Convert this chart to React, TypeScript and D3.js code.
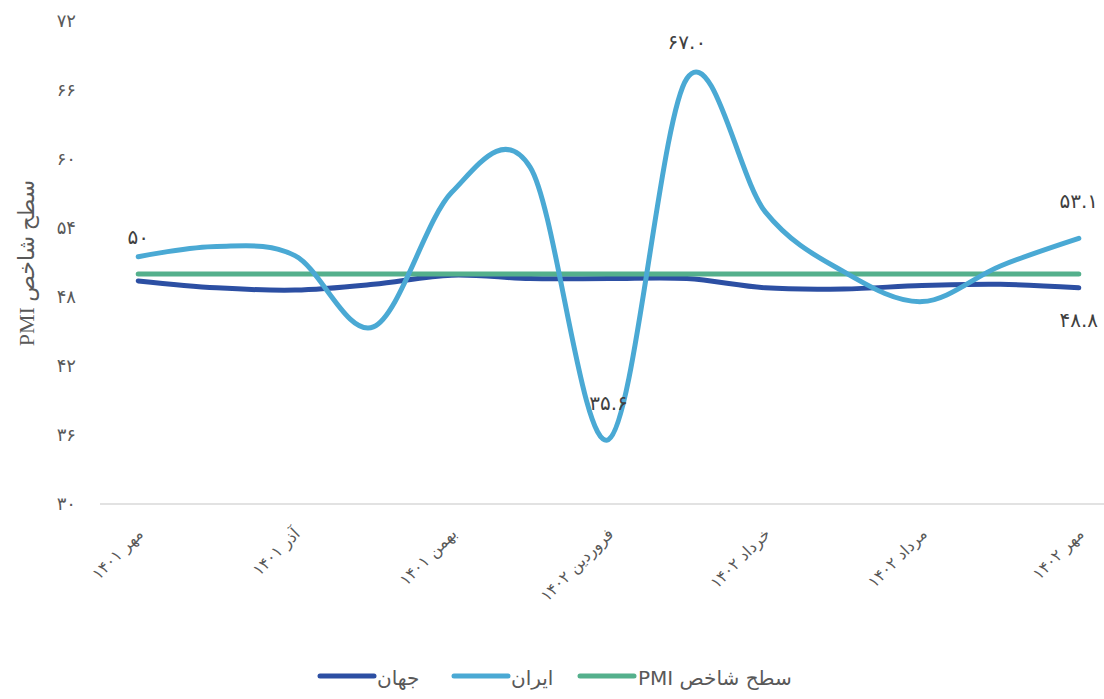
import * as d3 from 'd3'

const months = [
  'مهر ۱۴۰۱', 'آبان ۱۴۰۱', 'آذر ۱۴۰۱', 'دی ۱۴۰۱', 'بهمن ۱۴۰۱', 'اسفند ۱۴۰۱',
  'فروردین ۱۴۰۲', 'اردیبهشت ۱۴۰۲', 'خرداد ۱۴۰۲', 'تیر ۱۴۰۲', 'مرداد ۱۴۰۲', 'شهریور ۱۴۰۲', 'مهر ۱۴۰۲',
]
const worldValues = [49.4, 48.8, 48.6, 49.1, 49.9, 49.6, 49.6, 49.6, 48.8, 48.7, 49.0, 49.1, 48.8]
const iranValues = [51.5, 52.4, 51.6, 45.4, 57.1, 59.3, 35.6, 67.0, 55.4, 50.2, 47.6, 50.7, 53.1]
const pmiLevel = [50, 50, 50, 50, 50, 50, 50, 50, 50, 50, 50, 50, 50]
const yTicks = [30, 36, 42, 48, 54, 60, 66, 72]

// which points carry a data label, and on which side
const labelledPoints = [
  { series: 'pmi', index: 0, side: 'above', digits: 0 },
  { series: 'iran', index: 6, side: 'above', digits: 1 },
  { series: 'iran', index: 7, side: 'above', digits: 1 },
  { series: 'iran', index: 12, side: 'above', digits: 1 },
  { series: 'world', index: 12, side: 'below', digits: 1 },
]

const colors = { world: '#2c4fa3', iran: '#4aa9d4', pmi: '#54b08c' }
const faFont = "'DejaVu Sans', sans-serif"

const toFa = (s: string) => s.replace(/[0-9]/g, (c) => '۰۱۲۳۴۵۶۷۸۹'[+c])

export default function App() {
  const width = 1104
  const height = 699
  const axisY = 504

  const x = d3.scaleBand<string>().domain(months).range([99, 1118]).paddingInner(0)
  const cx = (i: number) => (x(months[i]) ?? 0) + x.bandwidth() / 2
  const y = d3.scaleLinear().domain([30, 72]).range([axisY, 21])

  const line = d3
    .line<number>()
    .x((_, i) => cx(i))
    .y((d) => y(d))
    .curve(d3.curveCardinal.tension(0))

  const seriesData: Record<string, number[]> = { world: worldValues, iran: iranValues, pmi: pmiLevel }

  const legend = [
    { key: 'world', label: 'جهان', lx: 320, tx: 377 },
    { key: 'iran', label: 'ایران', lx: 454, tx: 511 },
    { key: 'pmi', label: 'سطح شاخص PMI', lx: 580, tx: 638 },
  ]

  return (
    <svg width={width} height={height} style={{ display: 'block', position: 'absolute', left: 0, top: 0 }}>
      <rect width={width} height={height} fill="#ffffff" />

      {/* y axis labels */}
      {yTicks.map((t) => (
        <text
          key={t}
          x={76}
          y={y(t)}
          dy="0.35em"
          textAnchor="end"
          fontFamily={faFont}
          fontSize={18}
          fill="#595959"
        >
          {toFa(String(t))}
        </text>
      ))}

      <text
        transform="translate(26, 263) rotate(-90)"
        textAnchor="middle"
        direction="rtl"
        dy="0.35em"
        fontFamily="'Liberation Serif', 'DejaVu Sans', serif"
        fontSize={22}
        fill="#595959"
      >
        سطح شاخص PMI
      </text>

      {/* category axis */}
      <line x1={100} x2={width} y1={axisY} y2={axisY} stroke="#d9d9d9" strokeWidth={1.5} />
      {months.map((m, i) =>
        i % 2 === 0 ? (
          <text
            key={m}
            transform={`translate(${cx(i) + 2}, 531) rotate(-45)`}
            textAnchor="end"
            dy="0.35em"
            fontFamily={faFont}
            fontSize={16}
            fill="#595959"
          >
            {m}
          </text>
        ) : null,
      )}

      {/* series */}
      {(['world', 'pmi', 'iran'] as const).map((k) => (
        <path
          key={k}
          d={line(seriesData[k]) ?? ''}
          fill="none"
          stroke={colors[k]}
          strokeWidth={5}
          strokeLinecap="round"
          strokeLinejoin="round"
        />
      ))}

      {/* data labels */}
      {labelledPoints.map((p) => {
        const v = seriesData[p.series][p.index]
        const ly = y(v) + (p.side === 'above' ? -37 : 32)
        return (
          <text
            key={`${p.series}-${p.index}`}
            x={cx(p.index)}
            y={ly}
            dy="0.35em"
            textAnchor="middle"
            fontFamily={faFont}
            fontSize={20}
            fill="#404040"
          >
            {toFa(v.toFixed(p.digits))}
          </text>
        )
      })}

      {/* legend */}
      {legend.map((l) => (
        <g key={l.key}>
          <line
            x1={l.lx}
            x2={l.lx + 54}
            y1={676}
            y2={676}
            stroke={colors[l.key as keyof typeof colors]}
            strokeWidth={5}
            strokeLinecap="round"
          />
          <text
            x={l.tx}
            y={677}
            dy="0.4em"
            direction="rtl"
            textAnchor="end"
            fontFamily={faFont}
            fontSize={20}
            fill="#595959"
          >
            {l.label}
          </text>
        </g>
      ))}
    </svg>
  )
}
